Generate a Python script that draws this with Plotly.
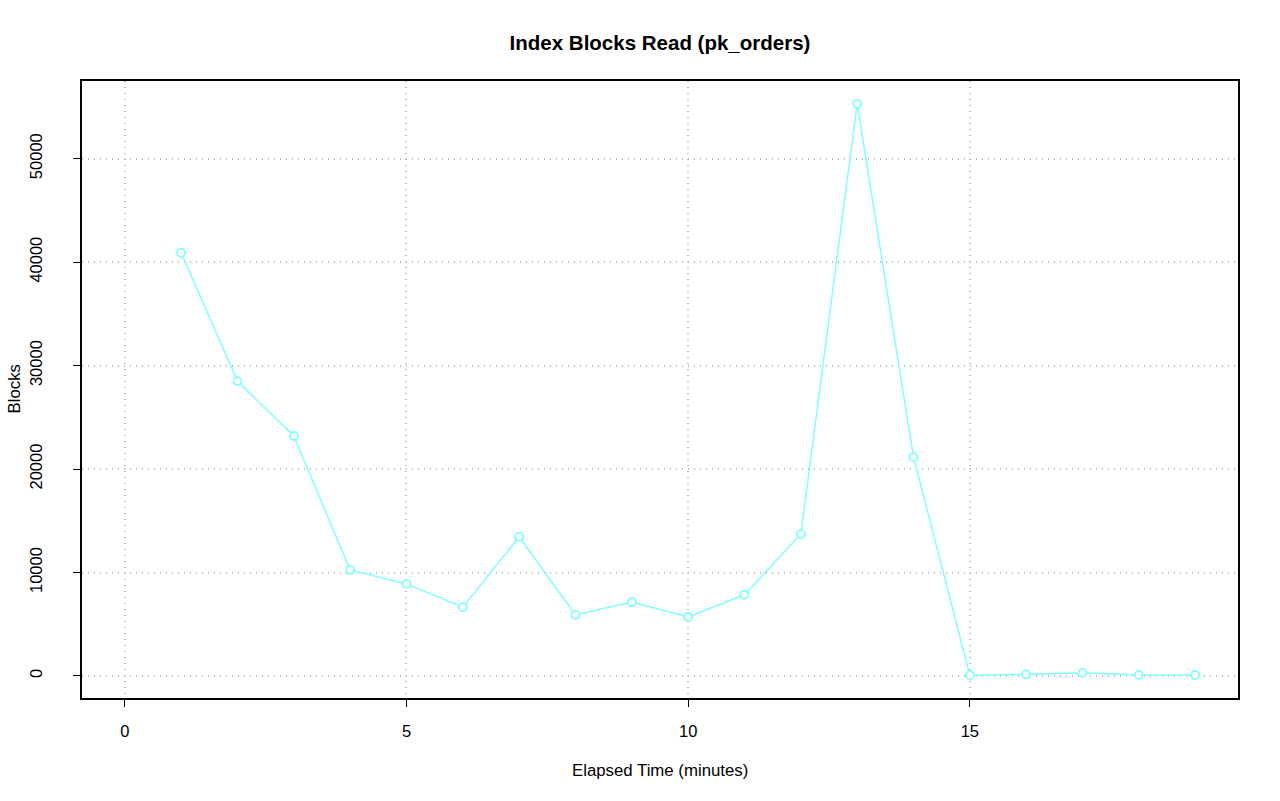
import plotly.graph_objects as go

minutes = list(range(1, 20))
blocks = [40900, 28500, 23200, 10250, 8900, 6650, 13450, 5900, 7150, 5700,
          7850, 13700, 55300, 21150, 80, 150, 300, 100, 100]

x_ticks = [0, 5, 10, 15]
y_ticks = [0, 10000, 20000, 30000, 40000, 50000]
y_tick_text = [str(v) for v in y_ticks]

color = "#80FFFF"
font = "Liberation Sans, Arial, sans-serif"

W, H = 1280, 801
L, R, T, B = 82, 42, 81, 103
pw, ph = W - L - R, H - T - B

fig = go.Figure()
fig.add_trace(go.Scatter(
    x=minutes, y=blocks, mode="lines+markers",
    line=dict(color=color, width=1.5),
    marker=dict(symbol="circle", size=8, color="white",
                line=dict(color=color, width=1.8)),
    showlegend=False,
))

xmin, xmax = 0, 19
ymin, ymax = min(blocks), max(blocks)
xpad = (xmax - xmin) * 0.04
ypad = (ymax - ymin) * 0.04

grid = dict(showgrid=True, gridcolor="#BBBBBB", griddash="1px,5px", gridwidth=1.5)

fig.update_layout(
    width=W, height=H,
    margin=dict(l=L, r=R, t=T, b=B, autoexpand=False),
    plot_bgcolor="white", paper_bgcolor="white",
    font=dict(family=font, size=16.5, color="black"),
    title=dict(text="<b>Index Blocks Read (pk_orders)</b>", x=0.5, xref="paper",
               xanchor="center", y=1 - 43 / H, yanchor="middle",
               font=dict(size=20.5)),
    xaxis=dict(range=[xmin - xpad, xmax + xpad], tickvals=x_ticks,
               ticks="outside", ticklen=7, tickwidth=1, tickcolor="black",
               ticklabelstandoff=10,
               showline=True, linecolor="black", linewidth=2, mirror=True,
               zeroline=False, automargin=False, **grid),
    yaxis=dict(range=[ymin - ypad, ymax + ypad], tickvals=y_ticks, ticktext=y_tick_text,
               tickangle=-90,
               ticks="outside", ticklen=7, tickwidth=1, tickcolor="black",
               ticklabelstandoff=24,
               showline=True, linecolor="black", linewidth=2, mirror=True,
               zeroline=False, automargin=False, **grid),
    annotations=[
        dict(text="Elapsed Time (minutes)", xref="paper", yref="paper",
             x=0.5, y=(T + ph - 770) / ph, xanchor="center", yanchor="middle",
             showarrow=False, font=dict(size=16.8)),
        dict(text="Blocks", xref="paper", yref="paper",
             x=(14 - L) / pw, y=0.5, xanchor="center", yanchor="middle",
             textangle=-90, showarrow=False, font=dict(size=16.8)),
    ],
)

fig.write_html("out.html", config={"displayModeBar": False},
               post_script="document.body.style.margin='0';")
